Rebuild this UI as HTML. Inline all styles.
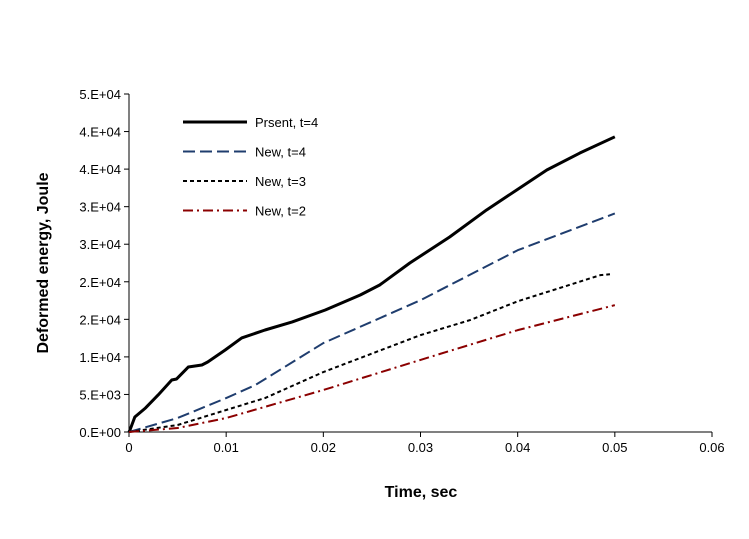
<!DOCTYPE html>
<html><head><meta charset="utf-8"><style>
body{margin:0;background:#fff;width:749px;height:534px;overflow:hidden}
text{font-family:"Liberation Sans",Arial,sans-serif}
</style></head><body>
<svg id="chart" width="749" height="534" xmlns="http://www.w3.org/2000/svg">
<g id="axes"></g><g id="series"></g><g id="legend"></g>
</svg>
<script>
const xTicks=[0,0.01,0.02,0.03,0.04,0.05,0.06];
const xTickLabels=["0","0.01","0.02","0.03","0.04","0.05","0.06"];
const yTicks=[0,5000,10000,15000,20000,25000,30000,35000,40000,45000];
const yTickLabels=["0.E+00","5.E+03","1.E+04","2.E+04","2.E+04","3.E+04","3.E+04","4.E+04","4.E+04","5.E+04"];
const presentX=[0,0.0001,0.0006,0.0017,0.003,0.0044,0.0049,0.0061,0.0075,0.0081,0.0099,0.0116,0.014,0.0168,0.0202,0.0238,0.0258,0.0289,0.033,0.0368,0.0399,0.043,0.0464,0.05];
const presentY=[0,270,2000,3200,4930,6920,7060,8650,8920,9320,10920,12520,13580,14650,16240,18240,19570,22500,25960,29560,32220,34880,37140,39300];
const new4X=[0,0.005,0.01,0.013,0.02,0.03,0.04,0.05];
const new4Y=[0,1860,4520,6250,11840,17550,24200,29100];
const new3X=[0,0.005,0.01,0.014,0.02,0.03,0.0351,0.04,0.0485,0.0495];
const new3Y=[0,930,2930,4520,7980,12900,14900,17400,20880,21000];
const new2X=[0,0.005,0.01,0.02,0.03,0.04,0.05];
const new2Y=[0,530,1860,5590,9600,13560,16890];
const X0=129,X1=712,Y0=432,Y1=94;
const sx=v=>X0+v/0.06*(X1-X0);
const sy=v=>Y0-v/45000*(Y0-Y1);
const NS="http://www.w3.org/2000/svg";
function mk(tag,attrs,parent,txt){const e=document.createElementNS(NS,tag);for(const k in attrs)e.setAttribute(k,attrs[k]);if(txt!==undefined)e.textContent=txt;parent.appendChild(e);return e;}
const axes=document.getElementById('axes');
let e=mk('line',{x1:X0,y1:Y0,x2:X1,y2:Y0,stroke:'#000'},axes);


e=mk('line',{x1:X0,y1:Y0,x2:X0,y2:Y1,stroke:'#000'},axes);


xTicks.forEach((t,i)=>{const x=sx(t);mk('line',{x1:x,y1:Y0,x2:x,y2:Y0+5,stroke:'#000'},axes);
 const l=mk('text',{x:x,y:Y0+20,'text-anchor':'middle','font-size':13},axes,xTickLabels[i]);
 
 });
yTicks.forEach((t,i)=>{const y=sy(t);mk('line',{x1:X0-5,y1:y,x2:X0,y2:y,stroke:'#000'},axes);
 const l=mk('text',{x:X0-8,y:y+5,'text-anchor':'end','font-size':13},axes,yTickLabels[i]);
 
 });
e=mk('text',{x:421,y:497,'text-anchor':'middle','font-size':16,'font-weight':'bold'},axes,'Time, sec');


e=mk('text',{x:0,y:0,'text-anchor':'middle','font-size':16,'font-weight':'bold',transform:'translate(48,263) rotate(-90)'},axes,'Deformed energy, Joule');


const series=[
 {n:'Prsent, t=4',x:presentX,y:presentY,c:'#000',w:3,d:''},
 {n:'New, t=4',x:new4X,y:new4Y,c:'#1f3d6e',w:2,d:'12,5'},
 {n:'New, t=3',x:new3X,y:new3Y,c:'#000',w:2,d:'4,3'},
 {n:'New, t=2',x:new2X,y:new2Y,c:'#8b0000',w:2,d:'10,4,2,4'}];
const sg=document.getElementById('series'),lg=document.getElementById('legend');
series.forEach((s,i)=>{
 const p=mk('polyline',{points:s.x.map((v,j)=>sx(v)+','+sy(s.y[j])).join(' '),fill:'none',stroke:s.c,'stroke-width':s.w,'stroke-dasharray':s.d,'stroke-linejoin':'round'},sg);
 
 
 const ly=122+i*29.5;
 mk('line',{x1:183,y1:ly,x2:247,y2:ly,stroke:s.c,'stroke-width':s.w,'stroke-dasharray':s.d},lg);
 const t=mk('text',{x:255,y:ly+5,'font-size':13},lg,s.n);
 
 
});
</script>
</body></html>
